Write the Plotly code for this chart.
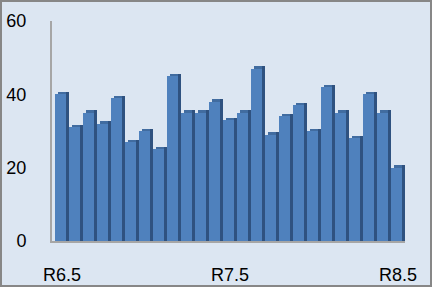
import plotly.graph_objects as go

categories = ["R6.5", "R6.6", "R6.7", "R6.8", "R6.9", "R6.10", "R6.11", "R6.12",
              "R7.1", "R7.2", "R7.3", "R7.4", "R7.5", "R7.6", "R7.7", "R7.8",
              "R7.9", "R7.10", "R7.11", "R7.12", "R8.1", "R8.2", "R8.3", "R8.4", "R8.5"]
values = [40, 31, 35, 32, 39, 27, 30, 25, 45, 35, 35, 38, 33, 35, 47, 29,
          34, 37, 30, 42, 35, 28, 40, 35, 20]
tick_labels = ["R6.5", "R7.5", "R8.5"]

W, H = 432, 287
ML, MR, MT, MB = 52, 27, 21, 46
plot_w = W - ML - MR
plot_h = H - MT - MB
px_per_unit_x = 14.0
xmin = -0.5 - 3 / px_per_unit_x
xmax = xmin + plot_w / px_per_unit_x
px_per_unit_y = plot_h / 60.0

n = len(values)
xs = list(range(n))
front_w = 11 / px_per_unit_x
dx = 3 / px_per_unit_x
dy = 2.5 / px_per_unit_y

fig = go.Figure()
# top faces
fig.add_trace(go.Bar(x=xs, y=[dy] * n, base=values, width=front_w,
                     offset=-0.5 + dx, marker=dict(color="#416CA0", line_width=0),
                     hoverinfo="skip", showlegend=False))
# side faces
fig.add_trace(go.Bar(x=xs, y=[v + dy for v in values], base=0, width=dx,
                     offset=-0.5 + front_w, marker=dict(color="#2F5280", line_width=0),
                     hoverinfo="skip", showlegend=False))
# front faces
fig.add_trace(go.Bar(x=xs, y=values, base=0, width=front_w, offset=-0.5,
                     marker=dict(color="#4F81BD", line_width=0),
                     showlegend=False, hovertext=categories))

tick_idx = [categories.index(t) for t in tick_labels]

fig.update_layout(
    width=W, height=H,
    margin=dict(l=ML, r=MR, t=MT, b=MB, pad=0, autoexpand=False),
    paper_bgcolor="#DCE6F2", plot_bgcolor="#DCE6F2",
    barmode="overlay", bargap=0,
    font=dict(family="Liberation Sans, Arial, sans-serif", size=18, color="#000000"),
    xaxis=dict(range=[xmin, xmax], tickmode="array", tickvals=tick_idx,
               ticktext=tick_labels, showgrid=False, zeroline=False,
               showline=True, linecolor="#A6A6A6", linewidth=2,
               ticks="", ticklabelstandoff=16, fixedrange=True, automargin=False),
    yaxis=dict(range=[0, 60], tickvals=[0, 20, 40, 60], showgrid=False,
               zeroline=False, showline=True, linecolor="#A6A6A6", linewidth=2,
               ticks="", ticklabelstandoff=20, fixedrange=True, automargin=False),
    shapes=[dict(type="rect", xref="paper", yref="paper",
                 x0=(-ML + 1) / plot_w, x1=(plot_w + MR - 1) / plot_w,
                 y0=(-MB + 1) / plot_h, y1=(plot_h + MT - 1) / plot_h,
                 line=dict(color="#878787", width=2), fillcolor="rgba(0,0,0,0)",
                 layer="above")],
)

fig.write_html("out.html")
